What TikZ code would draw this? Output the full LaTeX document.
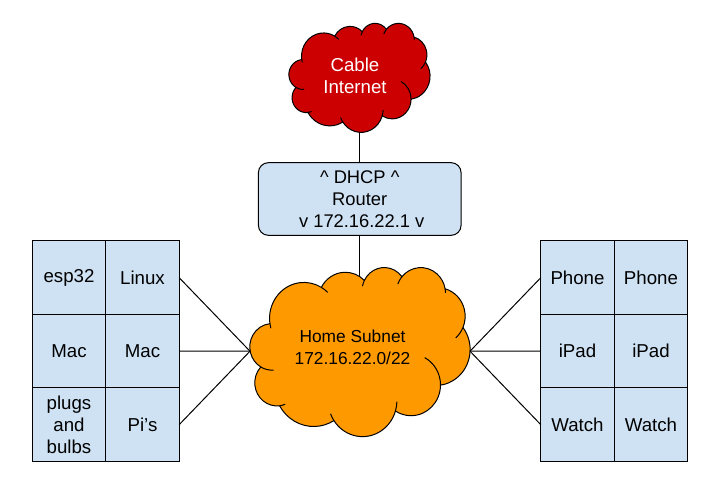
\documentclass[tikz,border=0pt]{standalone}
\usepackage{fontspec}
\setmainfont{Liberation Sans}
\usetikzlibrary{positioning}

\definecolor{cellblue}{HTML}{CFE2F3}
\definecolor{cablered}{HTML}{CC0000}
\definecolor{subnetorange}{HTML}{FF9900}

\tikzset{
	label text/.style={font=\fontsize{14pt}{16.5pt}\selectfont, align=center, inner sep=0pt, outer sep=0pt},
	cell/.style={label text, draw, fill=cellblue, line width=0.75pt, minimum width=55.1pt, minimum height=55.1pt},
	link/.style={line width=0.75pt},
}

% outline of a cloud, in a box of 432 by 432
\newcommand{\cloudshape}[1]{
	\filldraw[fill=#1, line width=0.75pt] (39,143.7)
		arc[start angle=-187.75, delta angle=128.12, x radius=67.53, y radius=91.90] coordinate (p1)
		arc[start angle=-152.02, delta angle=106.56, x radius=53.33, y radius=72.67] coordinate (p2)
		arc[start angle=-153.49, delta angle=116.17, x radius=43.65, y radius=59.45] coordinate (p3)
		arc[start angle=-139.71, delta angle=129.50, x radius=48.57, y radius=65.95] coordinate (p4)
		arc[start angle=-74.77, delta angle=97.98, x radius=53.33, y radius=72.73] coordinate (p5)
		arc[start angle=-37.53, delta angle=119.39, x radius=67.75, y radius=92.20] coordinate (p6)
		arc[start angle=0.46, delta angle=121.52, x radius=57.85, y radius=78.67] coordinate (p7)
		arc[start angle=16.85, delta angle=129.40, x radius=67.52, y radius=92.15] coordinate (p8)
		arc[start angle=58.98, delta angle=91.20, x radius=77.20, y radius=105.43] coordinate (p9)
		arc[start angle=83.31, delta angle=139.80, x radius=43.60, y radius=59.18] coordinate (p10)
		arc[start angle=120.34, delta angle=143.78, x radius=43.45, y radius=59.45]
		-- cycle;
	% short ends inside the cloud
	\draw[line width=0.75pt] (39,143.7) arc[start angle=172.25, delta angle=-8.2, x radius=67.53, y radius=91.90];
	\draw[line width=0.75pt] (p1) arc[start angle=-59.63, delta angle=13.3, x radius=67.53, y radius=91.90];
	\draw[line width=0.75pt] (p2) arc[start angle=-153.49, delta angle=-15, x radius=43.65, y radius=59.45];
	\draw[line width=0.75pt] (p3) arc[start angle=-139.71, delta angle=-19, x radius=48.57, y radius=65.95];
	\draw[line width=0.75pt] (p4) arc[start angle=-10.21, delta angle=9, x radius=48.57, y radius=65.95];
	\draw[line width=0.75pt] (p5) arc[start angle=23.21, delta angle=26, x radius=53.33, y radius=72.73];
	\draw[line width=0.75pt] (p6) arc[start angle=0.46, delta angle=-62.8, x radius=57.85, y radius=78.67];
	\draw[line width=0.75pt] (p7) arc[start angle=16.85, delta angle=-15, x radius=67.52, y radius=92.15];
	\draw[line width=0.75pt] (p8) arc[start angle=146.25, delta angle=12.2, x radius=67.52, y radius=92.15];
	\draw[line width=0.75pt] (p9) arc[start angle=83.31, delta angle=-15.1, x radius=43.60, y radius=59.18];
	\draw[line width=0.75pt] (p10) arc[start angle=120.34, delta angle=-34.8, x radius=43.45, y radius=59.45];
}

\begin{document}
\begin{tikzpicture}[x=0.75pt, y=-0.75pt, node distance=0pt]
	\useasboundingbox (0,0) rectangle (720,495);
	% clouds
	\begin{scope}[shift={(289,23)}, xscale=0.3264, yscale=0.2523]
		\cloudshape{cablered}
	\end{scope}
	\begin{scope}[shift={(250,267)}, xscale=0.5093, yscale=0.3912]
		\cloudshape{subnetorange}
	\end{scope}
	% cloud labels and the points where links meet the clouds
	\node[label text, text=white] (cable) at (355,75.5) {Cable\\Internet};
	\node[label text, font=\fontsize{13pt}{16.5pt}\selectfont] (home) at (352.5,347) {Home Subnet\\172.16.22.0/22};
	\coordinate (cablebottom) at (359.5,131.7);
	\coordinate (hometop) at (359.5,276);
	\coordinate (homeleft) at (250,351.2);
	\coordinate (homeright) at (470,351.2);
	% router
	\node[label text, font=\fontsize{13.75pt}{16.5pt}\selectfont, draw, fill=cellblue, rounded corners=7.5pt, line width=0.75pt, minimum width=152pt, minimum height=54.5pt] (router) at (359.75,199) {\^{} DHCP \^{}\\Router\\\hspace*{3pt}v 172.16.22.1 v};
	% left table
	\node[cell] (esp) at (69,277.7) {esp32};
	\node[cell, right=of esp] (linux) {Linux};
	\node[cell, below=of esp] (macone) {Mac};
	\node[cell, right=of macone] (mactwo) {Mac};
	\node[cell, below=of macone] (plugs) {plugs\\and\\bulbs};
	\node[cell, right=of plugs] (pis) {Pi’s};
	% right table
	\node[cell] (phoneone) at (577.5,277.7) {Phone};
	\node[cell, right=of phoneone] (phonetwo) {Phone};
	\node[cell, below=of phoneone] (ipadone) {iPad};
	\node[cell, right=of ipadone] (ipadtwo) {iPad};
	\node[cell, below=of ipadone] (watchone) {Watch};
	\node[cell, right=of watchone] (watchtwo) {Watch};
	% links
	\draw[link] (cablebottom) -- (cablebottom |- router.north);
	\draw[link] (hometop |- router.south) -- (hometop);
	\foreach \name in {linux,mactwo,pis}
	{
		\draw[link] (\name.east) -- (homeleft);
	}
	\foreach \name in {phoneone,ipadone,watchone}
	{
		\draw[link] (\name.west) -- (homeright);
	}
\end{tikzpicture}
\end{document}
